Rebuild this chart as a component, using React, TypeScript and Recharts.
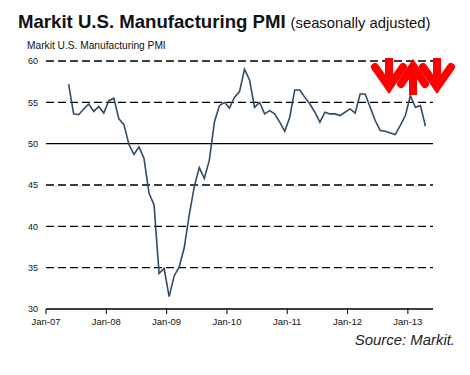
import { LineChart, Line, XAxis, YAxis, ReferenceLine } from "recharts"

// monthly values, May-07 .. Apr-13
const firstMonth = 4 // May 2007, months since Jan-07
const pmi = [
  57.2, 53.6, 53.5, 54.2, 54.8, 53.9, 54.5, 53.7,
  55.2, 55.5, 53.0, 52.3, 49.9, 48.7, 49.6, 48.2, 44.0, 42.6, 34.3, 34.9,
  31.5, 34.0, 35.1, 37.4, 41.4, 44.8, 47.1, 45.8, 48.0, 52.6, 54.6, 55.0,
  54.3, 55.6, 56.3, 59.0, 57.7, 54.4, 55.0, 53.6, 54.0, 53.6, 52.6, 51.5,
  53.2, 56.5, 56.5, 55.6, 54.8, 53.8, 52.6, 53.8, 53.6, 53.6, 53.4, 53.8,
  54.2, 53.7, 56.0, 56.0, 54.4, 52.8, 51.6, 51.5, 51.3, 51.1, 52.2, 53.4,
  55.8, 54.4, 54.6, 52.1,
]
const xTicks = [0, 12, 24, 36, 48, 60, 72]
const xLabels = ["Jan-07", "Jan-08", "Jan-09", "Jan-10", "Jan-11", "Jan-12", "Jan-13"]
const yTicks = [30, 35, 40, 45, 50, 55, 60]
const dashedLevels = [35, 40, 45, 55, 60]

const data = pmi.map((v, i) => ({ m: firstMonth + i + 0.5, pmi: v }))

const font = "'Liberation Sans', Arial, sans-serif"

export default function App() {
  return (
    <div style={{ position: "absolute", left: 0, top: 0, width: 470, height: 375, background: "#fff", fontFamily: font }}>
      <svg width={470} height={375} style={{ position: "absolute", left: 0, top: 0 }}>
        <text x={18} y={28} fontSize={18.6} fontWeight="bold" fill="#111" fontFamily={font}>
          Markit U.S. Manufacturing PMI
          <tspan fontWeight="normal" fontSize={14.8} dx={5}>(seasonally adjusted)</tspan>
        </text>
        <text x={27} y={48.5} fontSize={10.2} fill="#111" fontFamily={font}>Markit U.S. Manufacturing PMI</text>
        <text x={455} y={345} fontSize={14.9} fontStyle="italic" textAnchor="end" fill="#222" fontFamily={font}>Source: Markit.</text>
      </svg>
      <div style={{ position: "absolute", left: 0, top: 0 }}>
        <LineChart width={470} height={375} data={data} margin={{ top: 61, right: 37, bottom: 36, left: 0 }}>
          <XAxis
            dataKey="m"
            type="number"
            domain={[0, 77]}
            ticks={xTicks}
            tickFormatter={(v) => xLabels[xTicks.indexOf(v)]}
            axisLine={{ stroke: "#000", strokeWidth: 1.3 }}
            tickLine={{ stroke: "#000" }}
            tickSize={5}
            tickMargin={4}
            height={30}
            tick={{ fontSize: 9.5, fill: "#111", fontFamily: font }}
          />
          <YAxis
            domain={[30, 60]}
            ticks={yTicks}
            axisLine={false}
            tickLine={false}
            width={46}
            tick={{ fontSize: 9, fill: "#111", fontFamily: font }}
          />
          {dashedLevels.map((y) => (
            <ReferenceLine key={y} y={y} stroke="#000" strokeWidth={1.3} strokeDasharray="8 4" />
          ))}
          <ReferenceLine y={50} stroke="#000" strokeWidth={1.3} />
          <Line dataKey="pmi" stroke="#2f4b6a" strokeWidth={1.6} dot={false} isAnimationActive={false} />
        </LineChart>
      </div>
      <svg width={470} height={375} style={{ position: "absolute", left: 0, top: 0, pointerEvents: "none" }}>
        <g stroke="#f00" strokeWidth={8} fill="none" strokeLinejoin="miter">
          <path d="M389,58 L389,86" />
          <path d="M375,67 L389,87 L403,67" strokeLinecap="round" />
          <path d="M413,95 L413,68" />
          <path d="M401,84 L413,66 L425,84" strokeLinecap="round" />
          <path d="M437,58 L437,86" />
          <path d="M423,67 L437,87 L451,67" strokeLinecap="round" />
        </g>
      </svg>
    </div>
  )
}
